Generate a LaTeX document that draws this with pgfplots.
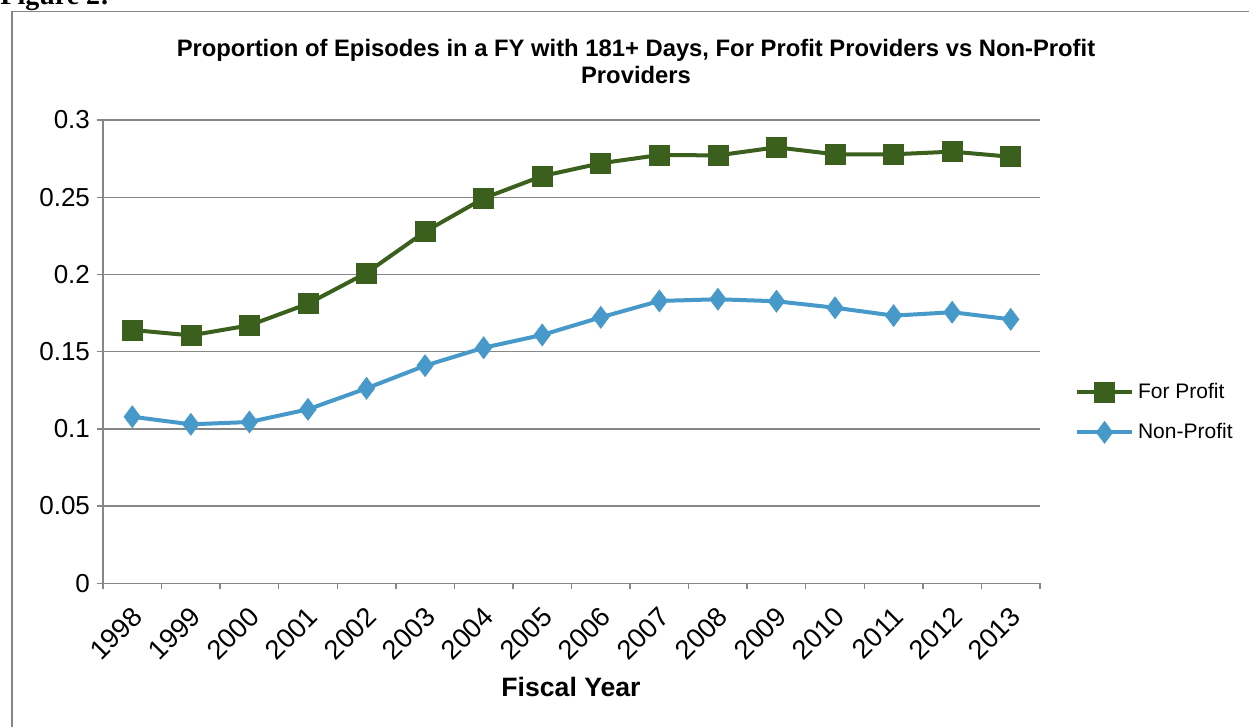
\documentclass[border=0pt]{standalone}
\usepackage{fontspec}
\setmainfont{Liberation Sans}
\newfontfamily\serifb{Liberation Serif}
\usepackage{pgfplots}
\pgfplotsset{compat=1.18}
\definecolor{fpgreen}{HTML}{3B5F1D}
\definecolor{npblue}{HTML}{4799C9}
\definecolor{axisgray}{HTML}{868686}
\begin{document}
\begin{tikzpicture}
\clip (0,0) rectangle (624.5pt,-363.5pt);
\fill[white] (0,0) rectangle (624.5pt,-363.5pt);
\node[anchor=base west, inner sep=0pt, font=\serifb\bfseries\fontsize{14}{16}\selectfont] at (0pt,-2.3pt) {Figure 2:};
\draw[axisgray, line width=0.8pt] (6pt,-420pt) -- (6pt,-5.75pt) -- (700pt,-5.75pt);
\node[align=center, font=\bfseries\fontsize{11.9}{13.5}\selectfont] at (318pt,-30.5pt) {Proportion of Episodes in a FY with 181+ Days, For Profit Providers vs Non-Profit\\Providers};
\node[font=\bfseries\fontsize{13.3}{15}\selectfont] at (285.5pt,-343.5pt) {Fiscal Year};
\begin{axis}[
  at={(51.5pt,-291.6pt)}, anchor=south west,
  width=468.5pt, height=231.6pt, scale only axis,
  xmin=-0.5, xmax=15.5, ymin=0, ymax=0.3,
  ytick={0,0.05,0.1,0.15,0.2,0.25,0.3},
  yticklabels={0,0.05,0.1,0.15,0.2,0.25,0.3},
  ymajorgrids,
  grid style={axisgray, line width=0.7pt},
  axis lines*=left,
  axis line style={axisgray, line width=0.7pt},
  tick align=outside,
  major tick length=3pt,
  tick style={axisgray, line width=0.7pt},
  xtick={-0.5,0.5,...,15.5},
  xticklabels={},
  extra x ticks={0,1,2,3,4,5,6,7,8,9,10,11,12,13,14,15},
  extra x tick labels={1998,1999,2000,2001,2002,2003,2004,2005,2006,2007,2008,2009,2010,2011,2012,2013},
  extra x tick style={major tick length=0pt, xticklabel style={font=\fontsize{13.6}{15}\selectfont, xshift=5pt, yshift=-12pt, rotate=45, anchor=east}},
  yticklabel style={font=\fontsize{13}{15}\selectfont},
  legend style={at={(1.037,0.369)}, anchor=west, draw=none, fill=none, font=\fontsize{10.5}{12}\selectfont, row sep=7pt, inner sep=0pt},
  legend cell align=left,
  legend image code/.code={\draw[mark repeat=2,mark phase=2,#1] plot coordinates {(0pt,0pt)(13.75pt,0pt)(27.5pt,0pt)};},
]
\addplot[color=fpgreen, line width=2pt, mark=square*, mark size=5pt, mark options={solid, line width=0.3pt}] coordinates {
(0,0.164)(1,0.1605)(2,0.167)(3,0.181)(4,0.201)(5,0.2277)(6,0.2493)(7,0.2637)
(8,0.272)(9,0.2773)(10,0.2771)(11,0.2823)(12,0.2778)(13,0.2778)(14,0.2795)(15,0.2762)};
\addlegendentry[mark size=2.5pt]{For Profit}
\addplot[color=npblue, line width=2pt, mark=diamond*, mark size=5.5pt, mark options={solid, line width=0.3pt}] coordinates {
(0,0.1078)(1,0.1029)(2,0.1044)(3,0.1126)(4,0.1262)(5,0.1409)(6,0.1525)(7,0.1608)
(8,0.1722)(9,0.1828)(10,0.1839)(11,0.1826)(12,0.1784)(13,0.1733)(14,0.1755)(15,0.1709)};
\addlegendentry[mark size=3pt]{Non-Profit}
\end{axis}
\end{tikzpicture}
\end{document}
